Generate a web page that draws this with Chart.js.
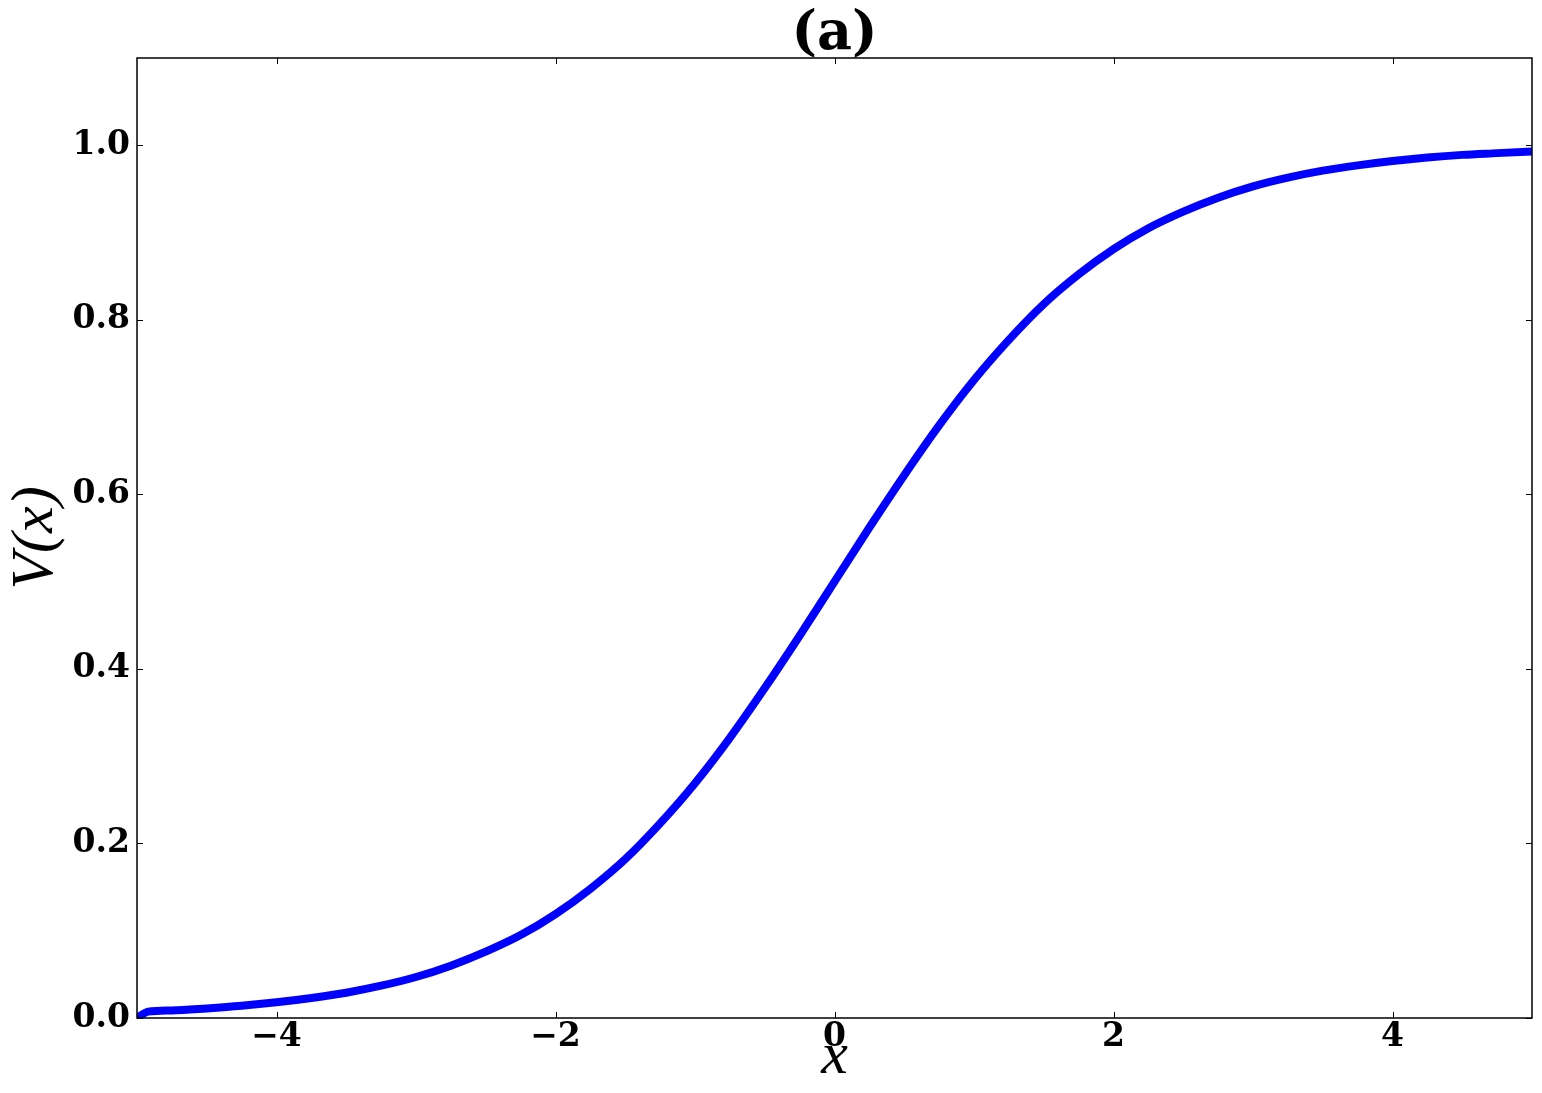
<!DOCTYPE html>
<html>
<head>
<meta charset="utf-8">
<script src="https://cdn.jsdelivr.net/npm/chart.js@4"></script>
<style>
  html, body { margin: 0; padding: 0; background: #fff; }
  #wrap { width: 1542px; height: 1093px; }
</style>
</head>
<body>
<div id="wrap"><canvas id="sigmoidChart"></canvas></div>
<script>
// values
var xValues = [-5, -4.92, -4.75, -4.5, -4.25, -4, -3.75, -3.5, -3.25, -3, -2.75, -2.5, -2.25, -2,
               -1.75, -1.5, -1.25, -1, -0.75, -0.5, -0.25, 0, 0.25, 0.5, 0.75, 1, 1.25, 1.5,
               1.75, 2, 2.25, 2.5, 2.75, 3, 3.25, 3.5, 3.75, 4, 4.25, 4.5, 4.75, 5];
var vValues = [0.0, 0.0073, 0.0086, 0.011, 0.014, 0.018, 0.023, 0.029, 0.037, 0.047, 0.060, 0.076, 0.095, 0.119,
               0.148, 0.182, 0.223, 0.269, 0.321, 0.378, 0.438, 0.5, 0.562, 0.622, 0.679, 0.731, 0.777, 0.818,
               0.852, 0.881, 0.905, 0.924, 0.940, 0.953, 0.963, 0.971, 0.977, 0.982, 0.986, 0.989, 0.991, 0.993];
var xTicks = [-4, -2, 0, 2, 4];
var yTicks = [0.0, 0.2, 0.4, 0.6, 0.8, 1.0];

var tickFont = { family: 'DejaVu Serif', weight: 'bold', size: 33 };
var labelFont = { family: 'Liberation Serif', style: 'italic', size: 60, lineHeight: 1.2 };

// frame + inward ticks on all four sides
var framePlugin = {
    id: 'frame',
    afterDatasetsDraw: function (chart) {
        var ctx = chart.ctx;
        var a = chart.chartArea;
        var xs = chart.scales.x, ys = chart.scales.y;
        ctx.save();
        ctx.strokeStyle = '#000';
        ctx.lineWidth = 1.5;
        ctx.strokeRect(a.left, a.top, a.right - a.left, a.bottom - a.top);
        ctx.lineWidth = 1;
        ctx.beginPath();
        xTicks.forEach(function (v) {
            var px = Math.round(xs.getPixelForValue(v)) + 0.5;
            ctx.moveTo(px, a.bottom); ctx.lineTo(px, a.bottom - 6);
            ctx.moveTo(px, a.top); ctx.lineTo(px, a.top + 6);
        });
        yTicks.forEach(function (v) {
            var py = Math.round(ys.getPixelForValue(v)) + 0.5;
            ctx.moveTo(a.left, py); ctx.lineTo(a.left + 6, py);
            ctx.moveTo(a.right, py); ctx.lineTo(a.right - 6, py);
        });
        ctx.stroke();
        ctx.restore();
    }
};

var points = xValues.map(function (x, i) { return { x: x, y: vValues[i] }; });

new Chart(document.getElementById('sigmoidChart'), {
    type: 'line',
    data: {
        datasets: [{
            data: points,
            borderColor: '#0000ff',
            borderWidth: 8,
            pointRadius: 0,
            cubicInterpolationMode: 'monotone',
            borderJoinStyle: 'round',
            fill: false
        }]
    },
    options: {
        responsive: true,
        maintainAspectRatio: false,
        animation: false,
        layout: { padding: { left: 0, right: 10, top: 0, bottom: 0 } },
        plugins: {
            legend: { display: false },
            tooltip: { enabled: false }
        },
        scales: {
            x: {
                type: 'linear',
                min: -5,
                max: 5,
                grid: { display: false, drawTicks: false },
                border: { display: false },
                afterBuildTicks: function (scale) {
                    scale.ticks = xTicks.map(function (v) { return { value: v }; });
                },
                afterFit: function (scale) { scale.height = 75; },
                ticks: {
                    color: '#000',
                    font: tickFont,
                    padding: 0,
                    maxRotation: 0,
                    callback: function (v) { return String(v).replace('-', '\u2212'); }
                },
                title: {
                    display: true,
                    text: 'x',
                    color: '#000',
                    font: labelFont,
                    padding: { top: 0, bottom: 0 }
                }
            },
            // top axis only carries the panel title, centred over the plot
            x2: {
                type: 'linear',
                position: 'top',
                min: -5,
                max: 5,
                grid: { display: false, drawTicks: false },
                border: { display: false },
                ticks: { display: false },
                afterFit: function (scale) { scale.height = 58; },
                title: {
                    display: true,
                    text: '(a)',
                    color: '#000',
                    font: { family: 'DejaVu Serif', weight: 'bold', size: 54, lineHeight: 1.2 },
                    padding: { top: 3, bottom: 0 }
                }
            },
            y: {
                type: 'linear',
                min: 0,
                max: 1.1,
                grid: { display: false, drawTicks: false },
                border: { display: false },
                afterBuildTicks: function (scale) {
                    scale.ticks = yTicks.map(function (v) { return { value: v }; });
                },
                afterFit: function (scale) { scale.width = 137; },
                ticks: {
                    color: '#000',
                    font: tickFont,
                    padding: 7,
                    callback: function (v) { return Number(v).toFixed(1); }
                },
                title: {
                    display: true,
                    text: 'V(x)',
                    color: '#000',
                    font: labelFont,
                    padding: { top: 0, bottom: 0 }
                }
            }
        }
    },
    plugins: [framePlugin]
});
</script>
</body>
</html>
